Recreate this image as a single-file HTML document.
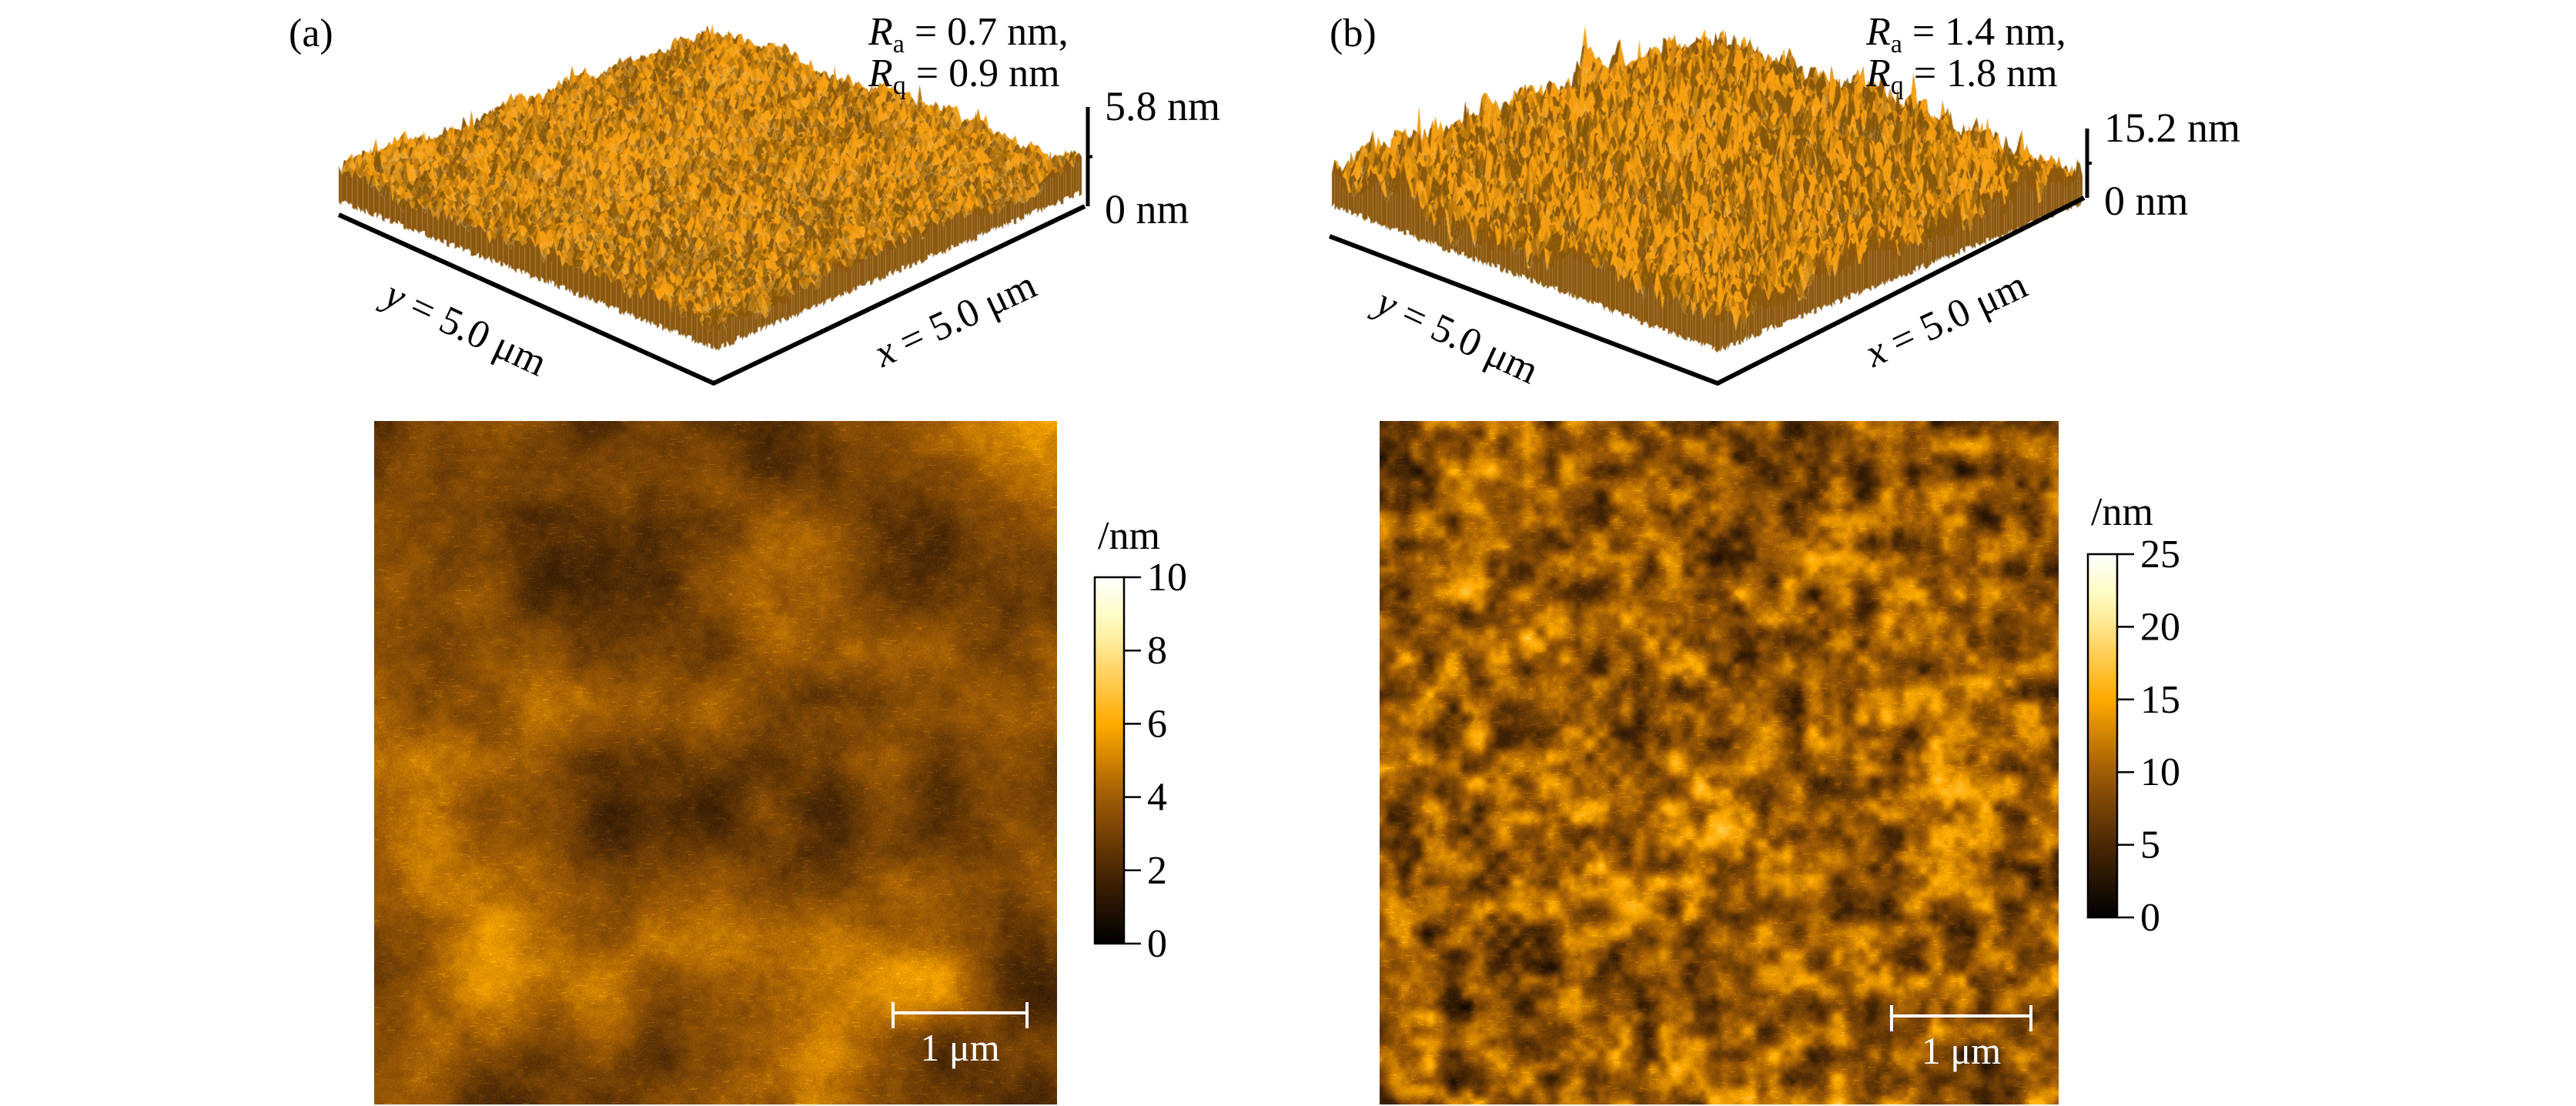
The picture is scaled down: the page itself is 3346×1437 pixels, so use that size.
<!DOCTYPE html>
<html><head><meta charset="utf-8">
<style>
html,body{margin:0;padding:0;background:#fff;}
#root{position:relative;width:3346px;height:1437px;overflow:hidden;background:#fff;font-family:"Liberation Serif",serif;}
canvas{position:absolute;}
svg{position:absolute;left:0;top:0;}
</style></head>
<body>
<div id="root">
<canvas id="s3a" width="1100" height="520" style="left:400px;top:0px"></canvas>
<canvas id="s3b" width="1100" height="520" style="left:1690px;top:0px"></canvas>
<canvas id="hma" width="887" height="888" style="left:486px;top:547px"></canvas>
<canvas id="hmb" width="882" height="888" style="left:1792px;top:547px"></canvas>
<svg id="ov" width="3346" height="1437"></svg>
</div>
<script>
// ---- data ----
const ticksA = [0, 2, 4, 6, 8, 10];
const ticksB = [0, 5, 10, 15, 20, 25];
const zMaxA = [5.8];
const zMaxB = [15.2];
const roughA = [0.7, 0.9];
const roughB = [1.4, 1.8];
const cmapT = [0, 0.2, 0.4, 0.6, 0.8, 0.88, 1];
const cmapR = [0, 75, 160, 255, 255, 255, 255];
const cmapG = [0, 40, 92, 170, 228, 252, 255];
const cmapB = [0, 5, 5, 0, 140, 190, 255];

function rng(seed){let s=seed>>>0;return()=>{s=(Math.imul(s,1664525)+1013904223)>>>0;return s/4294967296;};}
function makeNoise(seed,g){const r=rng(seed);const L=new Float32Array((g+2)*(g+2));for(let i=0;i<L.length;i++)L[i]=r();
 return (x,y)=>{const fx=x*g,fy=y*g;const ix=Math.floor(fx),iy=Math.floor(fy);let tx=fx-ix,ty=fy-iy;tx=tx*tx*(3-2*tx);ty=ty*ty*(3-2*ty);
 const w=g+2;const a=L[iy*w+ix],b=L[iy*w+ix+1],c=L[(iy+1)*w+ix],d=L[(iy+1)*w+ix+1];return a+(b-a)*tx+(c-a)*ty+(a-b-c+d)*tx*ty;};}
function cmap(t){t=Math.max(0,Math.min(1,t));let i=0;while(i<cmapT.length-2&&t>cmapT[i+1])i++;const f=(t-cmapT[i])/(cmapT[i+1]-cmapT[i]);
 return [cmapR[i]+(cmapR[i+1]-cmapR[i])*f,cmapG[i]+(cmapG[i+1]-cmapG[i])*f,cmapB[i]+(cmapB[i+1]-cmapB[i])*f];}

function heatmap(id,seed,gs,ws,base,amp,noiseAmp){
 const c=document.getElementById(id),ctx=c.getContext('2d');const W=c.width,H=c.height;
 const img=ctx.createImageData(W,H);const ns=gs.map((g,k)=>makeNoise(seed+k*17,g));const r=rng(seed+999);
 let streak=0;
 for(let y=0;y<H;y++)for(let x=0;x<W;x++){let n=0;for(let k=0;k<ns.length;k++)n+=ws[k]*ns[k](x/W,y/H);
  let t=base+amp*(n-0.5)+noiseAmp*(r()-0.5);
  if(streak>0){t+=0.08;streak--;}else if(r()<0.003)streak=3+Math.floor(r()*8);
  const col=cmap(t);const p=(y*W+x)*4;img.data[p]=col[0];img.data[p+1]=col[1];img.data[p+2]=col[2];img.data[p+3]=255;}
 ctx.putImageData(img,0,0);}
heatmap('hma',11,[5,12,30,90],[0.5,0.3,0.12,0.08],0.35,0.6,0.07);
heatmap('hmb',37,[6,28,55,120],[0.15,0.45,0.3,0.1],0.38,0.8,0.06);

function surface(id,seed,T0,R0,L0,B0,baseH,amp,spike){
 const c=document.getElementById(id),ctx=c.getContext('2d');const N=140;
 const n1=makeNoise(seed,6),n2=makeNoise(seed+5,35),n3=makeNoise(seed+9,140);const r=rng(seed+3);
 const h=[];for(let i=0;i<=N;i++){h.push([]);for(let j=0;j<=N;j++){const u=i/N,v=j/N;
  let z=baseH+amp*(0.7*(n1(u,v)-0.5)+0.8*(n2(u,v)-0.5)+0.6*(n3(u,v)-0.5));if(r()<0.03)z+=spike*r();h[i].push(Math.max(2,z));}}
 const G=(i,j)=>{const u=i/N,v=j/N;return [T0[0]*(1-u)*(1-v)+R0[0]*u*(1-v)+L0[0]*(1-u)*v+B0[0]*u*v,T0[1]*(1-u)*(1-v)+R0[1]*u*(1-v)+L0[1]*(1-u)*v+B0[1]*u*v];};
 const P=(i,j)=>{const g=G(i,j);return [g[0],g[1]-h[i][j]];};
 for(let s=0;s<=2*N-2;s++)for(let i=0;i<N;i++){const j=s-i;if(j<0||j>=N)continue;
  const a=P(i,j),b=P(i+1,j),cc=P(i+1,j+1),d=P(i,j+1);
  const hz=(h[i][j]+h[i+1][j+1])/2;const sl=(h[i][j+1]-h[i+1][j])*0.03;
  let k=0.86+0.35*(hz-baseH)/amp+sl;k=Math.max(0.6,Math.min(1.1,k));
  ctx.fillStyle=`rgb(${Math.min(255,225*k)|0},${Math.min(215,146*k)|0},${Math.min(90,18*k)|0})`;
  ctx.beginPath();ctx.moveTo(a[0],a[1]);ctx.lineTo(b[0],b[1]);ctx.lineTo(cc[0],cc[1]);ctx.lineTo(d[0],d[1]);ctx.closePath();ctx.fill();}
 for(let t=0;t<N;t++){
  [[N,t,N,t+1],[t,N,t+1,N]].forEach(q=>{const a=P(q[0],q[1]),b=P(q[2],q[3]),ga=G(q[0],q[1]),gb=G(q[2],q[3]);
   ctx.fillStyle='rgb(140,88,14)';ctx.beginPath();ctx.moveTo(a[0],a[1]);ctx.lineTo(b[0],b[1]);ctx.lineTo(gb[0],gb[1]+10*r());ctx.lineTo(ga[0],ga[1]+10*r());ctx.closePath();ctx.fill();});
 }
}
surface('s3a',5,[522,68],[1005,245],[40,255],[530,448],32,28,24);
surface('s3b',21,[535,75],[1015,258],[40,262],[541,450],36,50,32);

// ---- SVG overlay ----
const ov=document.getElementById('ov');const NS='http://www.w3.org/2000/svg';
function el(tag,attrs,parent){const e=document.createElementNS(NS,tag);for(const k in attrs)e.setAttribute(k,attrs[k]);(parent||ov).appendChild(e);return e;}
function txt(x,y,html,size,anchor,name,extra){const t=el('text',Object.assign({x:x,y:y,'font-size':size,'font-family':'Liberation Serif, serif','text-anchor':anchor||'start',fill:'#000'},extra||{}));t.innerHTML=html;
 
 
 return t;}

const defs=el('defs',{});const lg=el('linearGradient',{id:'cg',x1:0,y1:1,x2:0,y2:0},defs);
for(let i=0;i<=20;i++){const t=i/20,c=cmap(t);el('stop',{offset:t,'stop-color':`rgb(${c[0]|0},${c[1]|0},${c[2]|0})`},lg);}

function panel(L,B,R,zTop,zLabel,rough,lab,labX,rX,cbx,cby0,cby1,ticks,sbx0,sbx1,sby,yl,xl,unitY){
 txt(labX,60,'('+lab+')',52,'start','panel-label-'+lab);
 txt(rX,58,'<tspan font-style="italic">R</tspan><tspan font-size="34" dy="10">a</tspan><tspan dy="-10"> = '+rough[0]+' nm,</tspan>',52,'start','ra-value-'+lab);
 txt(rX,112,'<tspan font-style="italic">R</tspan><tspan font-size="34" dy="10">q</tspan><tspan dy="-10"> = '+rough[1]+' nm</tspan>',52,'start','rq-value-'+lab);
 const ax=el('polyline',{points:`${L[0]},${L[1]} ${B[0]},${B[1]} ${R[0]},${R[1]}`,fill:'none',stroke:'#000','stroke-width':6});
 
 
 const zl=el('line',{x1:R[0]+4,y1:R[1],x2:R[0]+4,y2:zTop,stroke:'#000','stroke-width':5});
 
 
 el('line',{x1:R[0]+4,y1:(R[1]+zTop)/2,x2:R[0]+10,y2:(R[1]+zTop)/2,stroke:'#000','stroke-width':4});
 txt(R[0]+26,zTop+17,zLabel+' nm',54,'start','z-max-label-'+lab);
 txt(R[0]+26,R[1]+22,'0 nm',54,'start','z-min-label-'+lab);
 txt(yl[0],yl[1],'<tspan font-style="italic">y</tspan> = 5.0 μm',52,'middle','y-size-label-'+lab,{transform:`rotate(25 ${yl[0]} ${yl[1]})`});
 txt(xl[0],xl[1],'<tspan font-style="italic">x</tspan> = 5.0 μm',52,'middle','x-size-label-'+lab,{transform:`rotate(-25 ${xl[0]} ${xl[1]})`});
 const cb=el('rect',{x:cbx,y:cby0,width:38,height:cby1-cby0,fill:'url(#cg)',stroke:'#000','stroke-width':2.5});
 
 
 const vmax=ticks[ticks.length-1];
 ticks.forEach(v=>{const y=cby1-(v/vmax)*(cby1-cby0);
  el('line',{x1:cbx+38,y1:y,x2:cbx+60,y2:y,stroke:'#000','stroke-width':2.5});
  txt(cbx+68,y+17,String(v),52,'start','colorbar-tick-'+lab);});
 txt(cbx+4,unitY,'/nm',52,'start','colorbar-unit-'+lab);
 el('line',{x1:sbx0,y1:sby,x2:sbx1,y2:sby,stroke:'#fff','stroke-width':4});
 el('line',{x1:sbx0,y1:sby-14,x2:sbx0,y2:sby+20,stroke:'#fff','stroke-width':4});
 el('line',{x1:sbx1,y1:sby-14,x2:sbx1,y2:sby+20,stroke:'#fff','stroke-width':4});
 txt((sbx0+sbx1)/2,sby+62,'1 μm',50,'middle','scale-bar-label-'+lab,{fill:'#fff'});
}
panel([440,279],[927,498],[1409,268],139,zMaxA[0],roughA,'a',375,1128,1422,750,1226,ticksA,1160,1334,1316,[598,442],[1248,430],713);
panel([1727,307],[2231,498],[2707,257],167,zMaxB[0],roughB,'b',1727,2424,2712,720,1192,ticksB,2457,2638,1320,[1886,452],[2535,430],682);
</script>
</body></html>
